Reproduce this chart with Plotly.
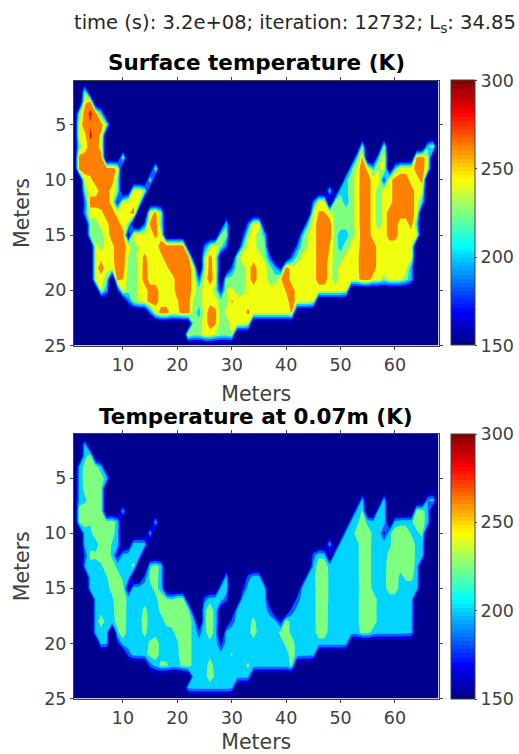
import numpy as np
import plotly.graph_objects as go

X_CELLS = list(range(1, 69))
Y_CELLS = list(range(1, 26))
OUTSIDE = 130

surface_rows = [
 [],
 [(3,[225])],
 [(3,[255,270])],
 [(2,[230,270,285,270,215])],
 [(2,[250,270,278,270,270,230])],
 [(2,[250,255,285,270,255])],
 [(2,[230,250,270,270,250]),(54,[230]),(58,[235]),(66,[215,235])],
 [(2,[270,270,270,270,270]),(10,[235]),(53,[215,262]),(57,[215,250]),(64,[265,272,245])],
 [(2,[270,270,270,270,270,270,270,255]),(16,[235]),(52,[215,250,270,255,215,240,250]),(60,[215,250,250,250,270,272,240])],
 [(3,[250,255,270,270,270,270,230]),(15,[230]),(51,[215,230,250,270,270,250,250,180,250,270,272,272,250,250,270])],
 [(3,[225,250,250,270,270,250,230]),(11,[150,250,250,230]),(48,[215]),(50,[215,215,230,250,272,270,250,230,250,250,270,272,272,270,250,240])],
 [(3,[190,270,270,270,270,250,170,240,250,250,240]),(45,[190,250,250,120,230,230,210,230,250,270,270,250,230,250,250,270,270,272,270,250,215])],
 [(3,[200,250,250,255,270,270,250,250,255,272]),(15,[250,265,230]),(45,[240,262,262,250,230,230,230,230,250,270,270,250,230,250,270,270,270,270,270,250])],
 [(4,[230,230,250,255,270,270,250,235]),(14,[190,262,270,225]),(29,[215]),(33,[190,250,250]),(44,[215,250,270,270,270,230,230,230,230,250,270,270,250,230,250,270,270,250,250,270,215])],
 [(4,[230,225,230,250,270,270,270,150,250,250,250,250,265,250]),(28,[225,230]),(32,[170,235,250,230,215]),(43,[215,240,250,270,270,272,230,210,210,230,245,270,270,250,250,250,270,270,250,250,250,245])],
 [(5,[250,230,250,255,270,270,250,230,245,250,250,250,270,270,270,270,270,150]),(25,[190,230,250,230,190]),(32,[215,250,250,230,230]),(42,[190,230,240,250,270,270,260,230,210,230,245,250,270,270,270,250,250,250,250,250,250,250])],
 [(5,[250,255,250,255,270,270,240,230,250,265,250,250,255,270,270,270,270,270,150]),(25,[230,270,240,150]),(31,[230,250,250,250,250,235,190]),(41,[190,225,245,250,250,270,270,255,230,230,245,250,255,270,270,272,250,250,250,250,250,250,250])],
 [(5,[250,272,245,250,270,270,235,230,245,270,250,250,250,255,270,270,270,270,250,120]),(25,[235,270,245,150]),(30,[190,230,230,250,272,250,250,230,205,170,272,250,250,250,250,250,270,270,250,230,250,250,250,255,270,270,270,250,250,250,250,250,245,205])],
 [(5,[250,250,230,110,270,260,230,230,245,270,250,250,250,250,250,270,270,270,250,190,250,270,250,125,230,230,230,230,250,272,250,250,230,230,258,272,250,250,250,250,250,270,270,250,230,250,250,250,250,270,270,250,250,230,250,250,245,230,205])],
 [(6,[240,205,110,170,250,230,230,245,250,270,270,250,250,250,270,270,270,250,230,250,250,230,170,240,245,230,230,250,250,250,250,250,250,250,262,272,250,250,250,250,250,250,250,250,250,245])],
 [(11,[190,230,245,250,270,270,250,250,250,258,270,270,235,230,250,255,250,230,230,262,255,250,250,250,250,250,250,250,250,250,272,250,250,250,240])],
 [(15,[190,245,270,270,250,255,270,270,230,210,250,270,265,230,245,250,250,250,265,250,250,250,250,250,250,250,262])],
 [(23,[230,230,250,270,262,230,230,250,250,250,240])],
 [(22,[245,230,230,250,250,240,230,230,240])],
 [],
]

subsurface_rows = [
 [],
 [(3,[208])],
 [(3,[212,232])],
 [(2,[205,228,232,232,205])],
 [(2,[208,228,232,232,232,208])],
 [(2,[208,226,232,232,228])],
 [(2,[208,215,232,232,228]),(54,[208]),(58,[210]),(66,[200,212])],
 [(2,[232,232,232,232,228]),(10,[208]),(53,[208,222]),(57,[208,212]),(64,[232,232,205])],
 [(2,[226,228,222,232,232,228,232,212]),(16,[208]),(52,[208,214,232,214,208,208,212]),(60,[208,215,214,216,232,232,208])],
 [(3,[212,215,232,232,232,232,206]),(15,[205]),(51,[208,212,228,232,232,215,212,170,215,232,232,232,218,215,226])],
 [(3,[208,212,212,228,232,218,208]),(11,[150,210,210,208]),(48,[208]),(50,[208,210,210,214,232,232,212,210,212,216,232,232,232,232,214,206])],
 [(3,[185,226,224,232,232,216,165,206,212,212,208]),(45,[190,216,214,120,210,210,210,210,214,232,232,212,210,212,226,232,232,232,232,214,208])],
 [(3,[200,212,212,216,232,232,214,212,214,226]),(15,[216,232,212]),(45,[206,232,232,214,210,210,210,210,214,232,232,212,210,212,232,232,228,232,232,212])],
 [(4,[208,210,212,218,232,232,214,206]),(14,[190,226,232,208]),(29,[208]),(33,[190,212,212]),(44,[208,214,232,232,216,210,210,210,210,214,232,232,212,210,214,232,232,214,224,226,208])],
 [(4,[208,208,210,214,226,232,232,150,212,212,212,214,226,212]),(28,[206,208]),(32,[170,208,212,210,208]),(43,[208,208,212,232,232,216,210,210,210,210,210,232,232,214,210,212,232,232,212,210,210,208])],
 [(5,[208,210,212,216,232,232,214,210,210,212,212,214,232,228,218,232,232,150]),(25,[190,214,214,208,190]),(32,[208,210,210,210,208]),(42,[190,208,210,212,232,232,216,210,210,210,210,214,232,232,232,214,210,210,210,210,210,208])],
 [(5,[208,212,210,212,232,232,212,210,210,226,212,210,226,232,232,232,232,232,150]),(25,[216,232,212,150]),(31,[208,210,210,210,210,208,190]),(41,[190,206,210,210,212,232,232,214,210,210,210,210,214,232,232,232,212,210,210,210,210,210,208])],
 [(5,[208,232,212,214,226,232,212,210,212,232,210,210,212,226,226,232,232,232,212,120]),(25,[216,232,214,150]),(30,[190,208,210,212,226,210,210,210,205,170,232,212,210,210,210,212,232,232,214,210,210,210,210,214,232,232,232,214,210,210,210,210,210,205])],
 [(5,[208,210,208,110,216,232,212,210,212,226,210,212,210,212,216,226,232,232,212,190,214,232,212,125,208,210,210,210,212,232,212,210,208,208,226,232,214,210,210,210,210,232,232,212,210,210,210,210,210,228,228,212,210,210,210,210,210,208,205])],
 [(6,[208,203,110,170,210,210,210,212,212,224,232,212,210,212,218,232,232,212,210,212,214,210,170,208,210,210,210,210,210,210,210,210,210,210,226,232,210,210,210,210,210,210,210,210,210,208])],
 [(11,[190,208,210,212,228,232,212,212,210,216,232,232,212,210,212,216,210,210,210,222,210,210,210,210,210,210,210,210,210,210,232,212,210,210,206])],
 [(15,[190,208,226,224,210,212,226,232,212,210,212,228,214,210,210,210,210,210,224,210,210,210,210,210,210,210,224])],
 [(23,[208,210,212,232,216,210,210,210,210,210,208])],
 [(22,[206,210,210,210,210,210,210,210,206])],
 [],
]

band_colors = ["#00008f", "#0000e0", "#0060ff", "#00d4ff", "#7fff7f", "#f0ff0f", "#ff8000", "#ff1000"]
tick_color = "#404040"


def jet(t):
    r = np.clip(min(4 * t - 1.5, -4 * t + 4.5), 0, 1)
    g = np.clip(min(4 * t - 0.5, -4 * t + 3.5), 0, 1)
    b = np.clip(min(4 * t + 0.5, -4 * t + 2.5), 0, 1)
    return f"rgb({int(r*255)},{int(g*255)},{int(b*255)})"


steps = 64
jet_scale = []
for i in range(steps):
    c = jet((i + 0.5) / steps)
    jet_scale += [[i / steps, c], [(i + 1) / steps, c]]


def grid(rows):
    z = [[OUTSIDE] * len(X_CELLS) for _ in Y_CELLS]
    for r, segs in enumerate(rows):
        for first, vals in segs:
            for k, v in enumerate(vals):
                z[r][first - 1 + k] = v
    return z


W, H = 519, 754
L, R = 74, 438.5
panels = [(80.5, 345.5, surface_rows, "x", "y", "Surface temperature (K)"),
          (434, 698.5, subsurface_rows, "x2", "y2", "Temperature at 0.07m (K)")]

fig = go.Figure()
bands = [[k / 7, c] for k, c in enumerate(band_colors)]
for top, bottom, rows, xa, ya, title in panels:
    fig.add_trace(go.Contour(
        x=X_CELLS, y=Y_CELLS, z=grid(rows), xaxis=xa, yaxis=ya, showscale=False,
        colorscale=bands, autocontour=False, hoverinfo="skip",
        contours=dict(start=160, end=280, size=20, coloring="fill", showlines=False),
        line=dict(width=0, smoothing=0)))
    fig.add_trace(go.Scatter(
        x=[None, None], y=[None, None], xaxis=xa, yaxis=ya, mode="markers", showlegend=False,
        marker=dict(color=[150, 300], cmin=150, cmax=300, colorscale=jet_scale, showscale=True,
                    colorbar=dict(x=451 / W, xanchor="left", thickness=24, thicknessmode="pixels",
                                  y=1 - top / H, yanchor="top", len=(bottom - top) / H, lenmode="fraction",
                                  ypad=0, xpad=0, outlinecolor=tick_color, outlinewidth=1,
                                  tickmode="array", tickvals=[150, 200, 250, 300],
                                  ticks="outside", ticklen=2, tickcolor=tick_color,
                                  tickfont=dict(family="DejaVu Sans", size=17.5, color=tick_color)))))
    fig.add_annotation(x=(L + R) / 2 / W, y=1 - (top - 18) / H, xref="paper", yref="paper", text=f"<b>{title}</b>",
                       showarrow=False, font=dict(family="DejaVu Sans", size=21.5, color="black"), yanchor="middle")

axis = dict(ticks="outside", ticklen=3, tickcolor=tick_color, showline=True, linecolor=tick_color, linewidth=1,
            mirror="allticks", showgrid=False, zeroline=False,
            tickfont=dict(family="DejaVu Sans", size=17.5, color=tick_color))
title_font = dict(family="DejaVu Sans", size=20.5, color=tick_color)
layout = {}
for idx, (top, bottom, *_rest) in enumerate(panels):
    s = "" if idx == 0 else "2"
    layout["xaxis" + s] = dict(axis, domain=[L / W, R / W], range=[1, 68], tickvals=[10, 20, 30, 40, 50, 60],
                               anchor="y" + s, title=dict(text="Meters", font=title_font, standoff=13))
    layout["yaxis" + s] = dict(axis, domain=[1 - bottom / H, 1 - top / H], range=[25, 1], tickvals=[5, 10, 15, 20, 25],
                               anchor="x" + s, title=dict(text="Meters", font=title_font, standoff=9))

fig.update_layout(width=W, height=H, margin=dict(l=0, r=0, t=0, b=0, autoexpand=False), paper_bgcolor="white",
                  plot_bgcolor="white", showlegend=False, **layout)
fig.add_annotation(x=72 / W, y=1 - 23 / H, xref="paper", yref="paper", xanchor="left", yanchor="middle", showarrow=False,
                   text="time (s): 3.2e+08; iteration: 12732; L<sub>s</sub>: 34.85",
                   font=dict(family="DejaVu Sans", size=19.5, color="#262626"))
fig.write_html("out.html", config=dict(displayModeBar=False), post_script="document.body.style.margin='0';")
